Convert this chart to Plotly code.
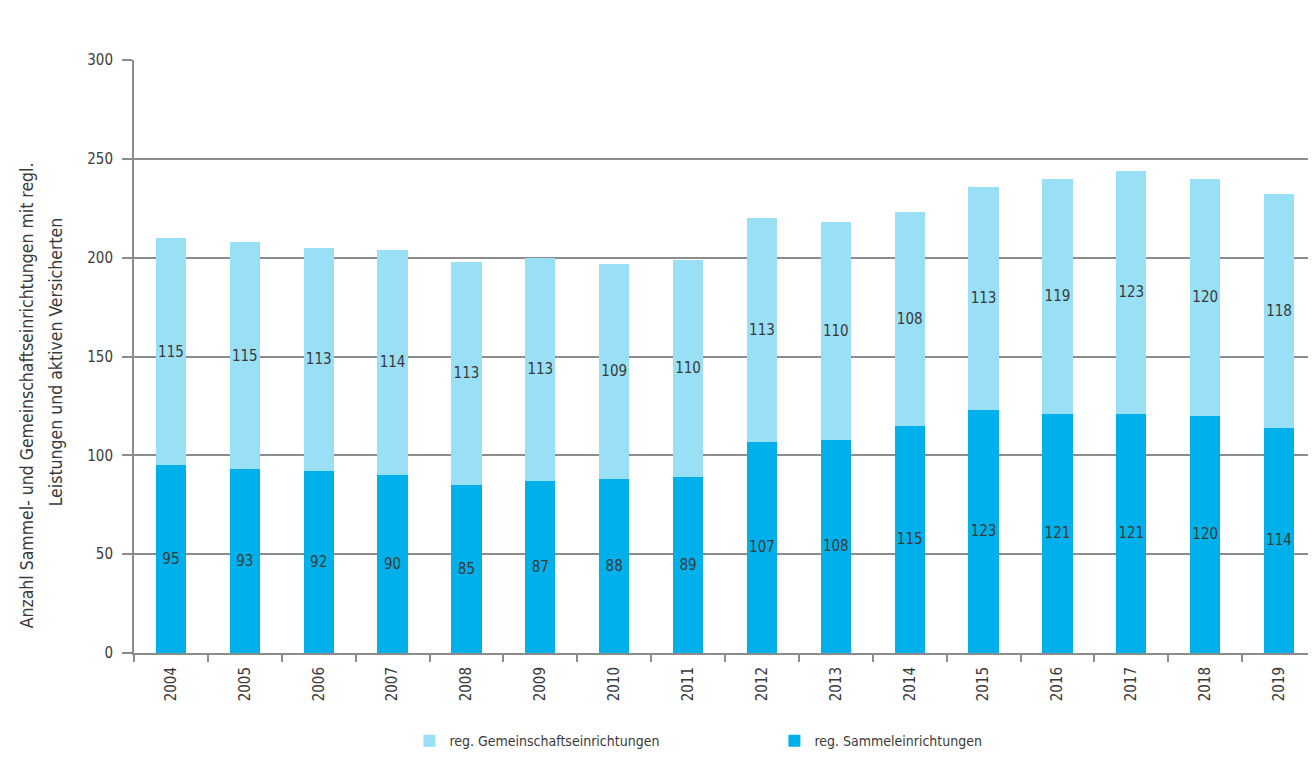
import plotly.graph_objects as go

# Jahre und Werte
years = ["2004", "2005", "2006", "2007", "2008", "2009", "2010", "2011",
         "2012", "2013", "2014", "2015", "2016", "2017", "2018", "2019"]
sammel = [95, 93, 92, 90, 85, 87, 88, 89, 107, 108, 115, 123, 121, 121, 120, 114]
gemeinschaft = [115, 115, 113, 114, 113, 113, 109, 110, 113, 110, 108, 113, 119, 123, 120, 118]
y_title_lines = ["Anzahl Sammel- und Gemeinschaftseinrichtungen mit regl.",
                 "Leistungen und aktiven Versicherten"]

font_family = "DejaVu Sans Condensed, Liberation Sans Narrow, sans-serif"
grid_color = "#8c8c8c"
text_color = "#3a3a3a"

fig = go.Figure()

fig.add_trace(go.Bar(
    x=years, y=sammel,
    name="reg. Sammeleinrichtungen",
    marker=dict(color="#00b0ea", line=dict(width=0)),
    text=sammel, textposition="inside", insidetextanchor="middle", textangle=0,
    textfont=dict(size=15, color=text_color, family=font_family),
    legendrank=2,
))
fig.add_trace(go.Bar(
    x=years, y=gemeinschaft,
    name="reg. Gemeinschaftseinrichtungen",
    marker=dict(color="#99dff5", line=dict(width=0)),
    text=gemeinschaft, textposition="inside", insidetextanchor="middle", textangle=0,
    textfont=dict(size=15, color=text_color, family=font_family),
    legendrank=1,
))

# Achsentitel als zwei gedrehte Zeilen (wie im Original leicht versetzt)
fig.add_annotation(x=-0.0903, y=0.435, xref="paper", yref="paper",
                   text=y_title_lines[0], textangle=-90, showarrow=False,
                   xanchor="center", yanchor="middle",
                   font=dict(size=17.5, color=text_color))
fig.add_annotation(x=-0.0664, y=0.491, xref="paper", yref="paper",
                   text=y_title_lines[1], textangle=-90, showarrow=False,
                   xanchor="center", yanchor="middle",
                   font=dict(size=17.5, color=text_color))

# die Seite hat 8 px Rand, daher etwas kleiner
fig.update_layout(
    barmode="stack",
    bargap=0.59,
    width=1308, height=761,
    margin=dict(l=126, r=0, t=52, b=116, autoexpand=False),
    plot_bgcolor="white",
    paper_bgcolor="white",
    font=dict(family=font_family, size=15, color=text_color),
    uniformtext=dict(mode="show", minsize=15),
    legend=dict(
        orientation="h",
        x=0.233, xanchor="left",
        y=-0.1215, yanchor="top",
        traceorder="normal",
        entrywidth=320,
        font=dict(size=14, color=text_color),
        itemwidth=30,
    ),
)

fig.update_xaxes(
    type="category",
    tickangle=-90,
    tickson="boundaries",
    ticks="outside", ticklen=7, tickcolor=grid_color, tickwidth=2,
    ticklabelstandoff=6,
    showline=True, linecolor=grid_color, linewidth=2,
    showgrid=False,
    automargin=False,
    tickfont=dict(size=15, color=text_color),
)
fig.update_yaxes(
    range=[0, 300],
    dtick=50,
    ticks="outside", ticklen=10, tickcolor=grid_color, tickwidth=2,
    ticklabelstandoff=6,
    showline=True, linecolor=grid_color, linewidth=2,
    showgrid=True, gridcolor=grid_color, gridwidth=2,
    zeroline=False,
    layer="above traces",
    automargin=False,
    tickfont=dict(size=15, color=text_color),
)

fig.write_html("out.html")
